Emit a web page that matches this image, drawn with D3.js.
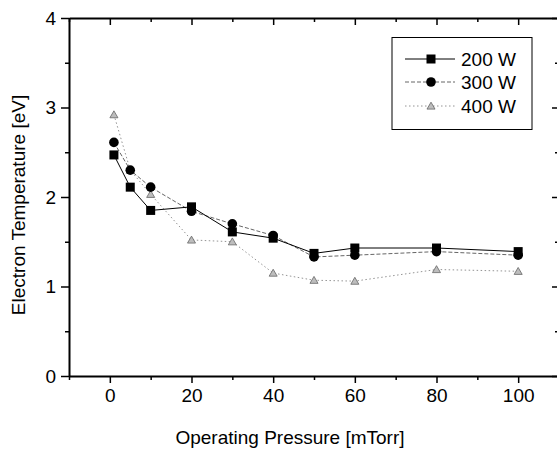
<!DOCTYPE html>
<html>
<head>
<meta charset="utf-8">
<script src="https://cdn.jsdelivr.net/npm/d3@7"></script>
<style>
  body { margin: 0; background: #fff; }
  svg text { font-family: "Liberation Sans", Arial, sans-serif; fill: #000; }
</style>
</head>
<body>
<svg id="chart" width="557" height="449"></svg>
<script>
// data
const pressure = [1, 5, 10, 20, 30, 40, 50, 60, 80, 100];
const te200 = [2.47, 2.11, 1.85, 1.89, 1.61, 1.54, 1.37, 1.43, 1.43, 1.39];
const te300 = [2.61, 2.30, 2.11, 1.84, 1.70, 1.57, 1.33, 1.35, 1.39, 1.35];
const te400 = [2.92, 2.30, 2.03, 1.52, 1.50, 1.15, 1.07, 1.06, 1.19, 1.17];
const seriesNames = ["200 W", "300 W", "400 W"];
const xMajorTicks = [0, 20, 40, 60, 80, 100];
const xMinorTicks = [-10, 10, 30, 50, 70, 90, 110];
const yMajorTicks = [0, 1, 2, 3, 4];
const yMinorTicks = [0.5, 1.5, 2.5, 3.5];

// layout
const plotLeft = 69, plotRight = 559, plotTop = 18, plotBottom = 376;
const fontSize = 19;

const svg = d3.select("#chart");
const x = d3.scaleLinear().domain([-10, 110]).range([plotLeft, plotRight]);
const y = d3.scaleLinear().domain([0, 4]).range([plotBottom, plotTop]);

const styleAxis = (g, width) => {
    g.select(".domain").attr("stroke", "#000").attr("stroke-width", width);
    g.selectAll(".tick line").attr("stroke", "#000").attr("stroke-width", 1.5);
    g.selectAll("text").style("font-size", fontSize + "px").attr("fill", "#000");
}

// bottom axis
svg.append("g").attr("transform", `translate(0,${plotBottom})`)
    .call(d3.axisBottom(x).tickValues(xMajorTicks).tickSize(7).tickPadding(6).tickSizeOuter(0))
    .call(g => styleAxis(g, 2));
svg.append("g").attr("transform", `translate(0,${plotBottom})`)
    .call(d3.axisBottom(x).tickValues(xMinorTicks).tickSize(4).tickFormat("").tickSizeOuter(0))
    .call(g => styleAxis(g, 0));
// top axis (ticks inward)
svg.append("g").attr("transform", `translate(0,${plotTop})`)
    .call(d3.axisTop(x).tickValues(xMajorTicks).tickSize(-7).tickFormat("").tickSizeOuter(0))
    .call(g => styleAxis(g, 2));
svg.append("g").attr("transform", `translate(0,${plotTop})`)
    .call(d3.axisTop(x).tickValues(xMinorTicks).tickSize(-4).tickFormat("").tickSizeOuter(0))
    .call(g => styleAxis(g, 0));
// left axis
svg.append("g").attr("transform", `translate(${plotLeft},0)`)
    .call(d3.axisLeft(y).tickValues(yMajorTicks).tickSize(8).tickPadding(5).tickFormat(d3.format("d")).tickSizeOuter(0))
    .call(g => styleAxis(g, 2));
svg.append("g").attr("transform", `translate(${plotLeft},0)`)
    .call(d3.axisLeft(y).tickValues(yMinorTicks).tickSize(4).tickFormat("").tickSizeOuter(0))
    .call(g => styleAxis(g, 0));
// right axis (ticks inward)
svg.append("g").attr("transform", `translate(${plotRight},0)`)
    .call(d3.axisRight(y).tickValues(yMajorTicks).tickSize(-7).tickFormat("").tickSizeOuter(0))
    .call(g => styleAxis(g, 2));
svg.append("g").attr("transform", `translate(${plotRight},0)`)
    .call(d3.axisRight(y).tickValues(yMinorTicks).tickSize(-4).tickFormat("").tickSizeOuter(0))
    .call(g => styleAxis(g, 0));

// axis titles
svg.append("text")
    .attr("x", 290).attr("y", 444)
    .attr("text-anchor", "middle")
    .style("font-size", fontSize + "px")
    .text("Operating Pressure [mTorr]");
svg.append("text")
    .attr("transform", `translate(25,${(plotTop + plotBottom) / 2 + 8}) rotate(-90)`)
    .attr("text-anchor", "middle")
    .style("font-size", fontSize + "px")
    .text("Electron Temperature [eV]");

// series
const series = [
    { name: seriesNames[0], values: te200, stroke: "#000", width: 1, dash: null, marker: "square" },
    { name: seriesNames[1], values: te300, stroke: "#555", width: 0.9, dash: "4,2", marker: "circle" },
    { name: seriesNames[2], values: te400, stroke: "#888", width: 0.9, dash: "1.5,2.5", marker: "triangle" }
];

const line = d3.line().x(d => x(d[0])).y(d => y(d[1]));

const drawMarker = (g, kind, cx, cy) => {
    if (kind === "square") {
        g.append("rect").attr("x", cx - 4.5).attr("y", cy - 4.5)
            .attr("width", 9).attr("height", 9).attr("fill", "#000");
    } else if (kind === "circle") {
        g.append("circle").attr("cx", cx).attr("cy", cy).attr("r", 4.8).attr("fill", "#000");
    } else {
        g.append("path")
            .attr("d", d3.symbol().type(d3.symbolTriangle).size(28)())
            .attr("transform", `translate(${cx},${cy + 0.8})`)
            .attr("fill", "#bdbdbd").attr("stroke", "#666").attr("stroke-width", 0.8);
    }
}

const seriesGroup = svg.append("g");
// draw back to front so black squares sit on top
for (const s of series.slice().reverse()) {
    const data = pressure.map((p, i) => [p, s.values[i]]);
    const g = seriesGroup.append("g");
    g.append("path")
        .attr("d", line(data))
        .attr("fill", "none")
        .attr("stroke", s.stroke)
        .attr("stroke-width", s.width)
        .attr("stroke-dasharray", s.dash);
    for (const d of data) drawMarker(g, s.marker, x(d[0]), y(d[1]));
}

// legend
const legend = svg.append("g");
legend.append("rect")
    .attr("x", 392).attr("y", 37.5).attr("width", 140).attr("height", 92)
    .attr("fill", "#fff").attr("stroke", "#000").attr("stroke-width", 1);
const legendRows = [59, 82, 106];
series.forEach((s, i) => {
    const ly = legendRows[i];
    const g = legend.append("g");
    g.append("line")
        .attr("x1", 405).attr("x2", 455).attr("y1", ly).attr("y2", ly)
        .attr("stroke", s.stroke).attr("stroke-width", s.width)
        .attr("stroke-dasharray", s.dash);
    drawMarker(g, s.marker, 431, ly);
    g.append("text")
        .attr("x", 461).attr("y", ly + 7)
        .style("font-size", fontSize + "px")
        .text(s.name);
});
</script>
</body>
</html>
